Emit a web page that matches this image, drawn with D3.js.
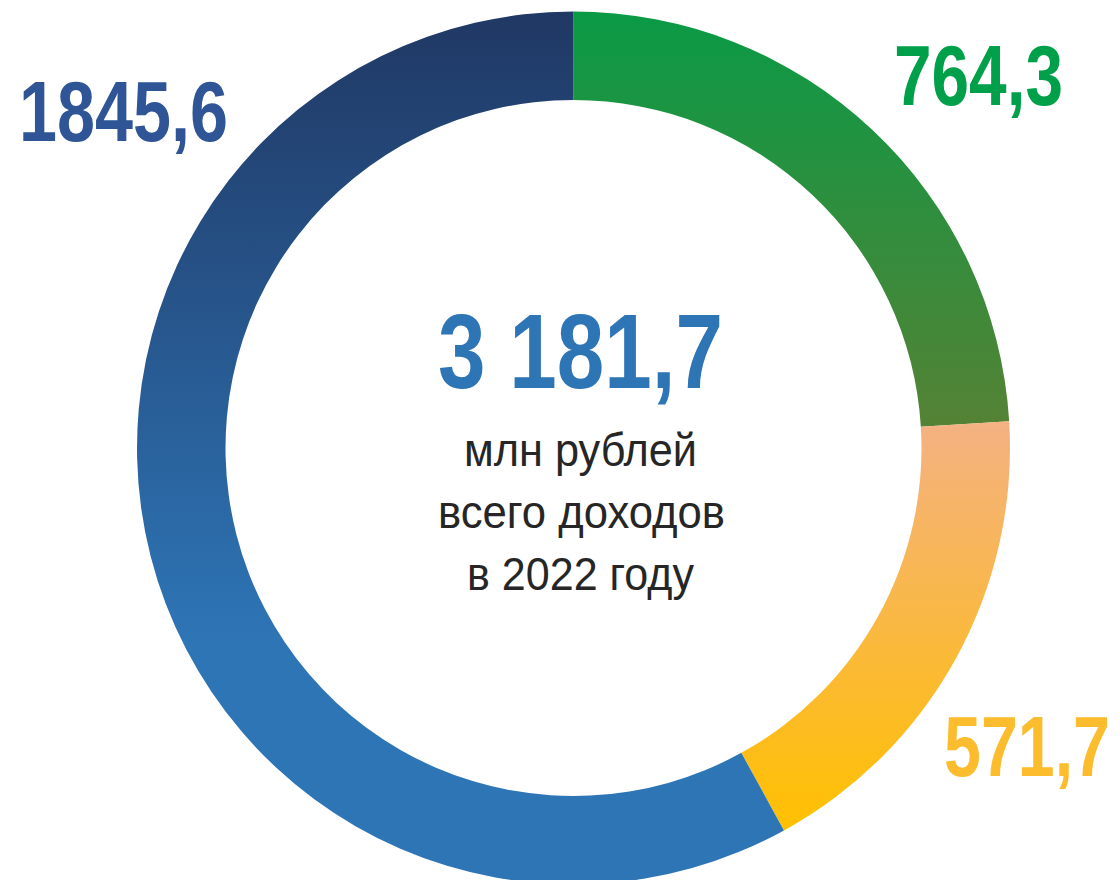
<!DOCTYPE html>
<html><head><meta charset="utf-8">
<script src="https://cdn.jsdelivr.net/npm/d3@7"></script>
<style>html,body{margin:0;padding:0;background:#fff;}svg{display:block;}</style>
</head><body>
<svg id="chart" width="1120" height="880"></svg>
<script>
const categories = ["A", "B", "C"];
const values = [764.3, 571.7, 1845.6];
const valueLabels = ["764,3", "571,7", "1845,6"];
const totalLabel = "3 181,7";
const subtitleLines = ["млн рублей", "всего доходов", "в 2022 году"];
const gradTop = ["#0a9a46", "#f4b183", "#203864"];
const gradBottom = ["#558235", "#ffc000", "#2e75b6"];
const labelColors = ["#00a04a", "#fbbd2e", "#2f5597"];

const svg = d3.select("#chart");
const cx = 573.5, cy = 448, rO = 436.5, rI = 348;
const FONT = "'Liberation Sans Narrow','Arial Narrow','Liberation Sans',Arial,sans-serif";

const pie = d3.pie().sort(null).value(d => d)(values);
const arc = d3.arc().innerRadius(rI).outerRadius(rO);
const defs = svg.append("defs");

const g = svg.append("g").attr("transform", `translate(${cx},${cy})`);
pie.forEach((p, i) => {
  const ys = [];
  for (let t = 0; t <= 60; t++) {
    const a = p.startAngle + (p.endAngle - p.startAngle) * t / 60;
    ys.push(-rO * Math.cos(a), -rI * Math.cos(a));
  }
  let y1 = d3.min(ys), y2 = d3.max(ys);
  if (i === 2) { y2 = y1 + (y2 - y1) * 0.72; }
  const gr = defs.append("linearGradient").attr("id", "g" + i)
    .attr("gradientUnits", "userSpaceOnUse")
    .attr("x1", 0).attr("x2", 0).attr("y1", y1).attr("y2", y2);
  gr.append("stop").attr("offset", 0).attr("stop-color", gradTop[i]);
  gr.append("stop").attr("offset", 1).attr("stop-color", gradBottom[i]);
  g.append("path").attr("d", arc(p)).attr("fill", `url(#g${i})`);
});

// value labels: [left x, baseline y, width]
const labelPos = [[894, 105, 169], [944, 776, 166], [19, 141, 209]];
valueLabels.forEach((t, i) => {
  svg.append("text").attr("x", labelPos[i][0]).attr("y", labelPos[i][1])
    .attr("textLength", labelPos[i][2]).attr("lengthAdjust", "spacingAndGlyphs")
    .attr("font-family", FONT).attr("font-weight", "bold").attr("font-size", 85)
    .attr("fill", labelColors[i]).text(t);
});

svg.append("text").attr("x", 438).attr("y", 388)
  .attr("textLength", 285).attr("lengthAdjust", "spacingAndGlyphs")
  .attr("font-family", FONT).attr("font-weight", "bold").attr("font-size", 106)
  .attr("fill", "#2e75b6").text(totalLabel);

const subPos = [[464, 466, 233], [438, 528, 287], [467, 590, 227]];
subtitleLines.forEach((t, i) => {
  svg.append("text").attr("x", subPos[i][0]).attr("y", subPos[i][1])
    .attr("textLength", subPos[i][2]).attr("lengthAdjust", "spacingAndGlyphs")
    .attr("font-family", FONT).attr("font-size", 46)
    .attr("fill", "#262626").text(t);
});
</script>
</body></html>
